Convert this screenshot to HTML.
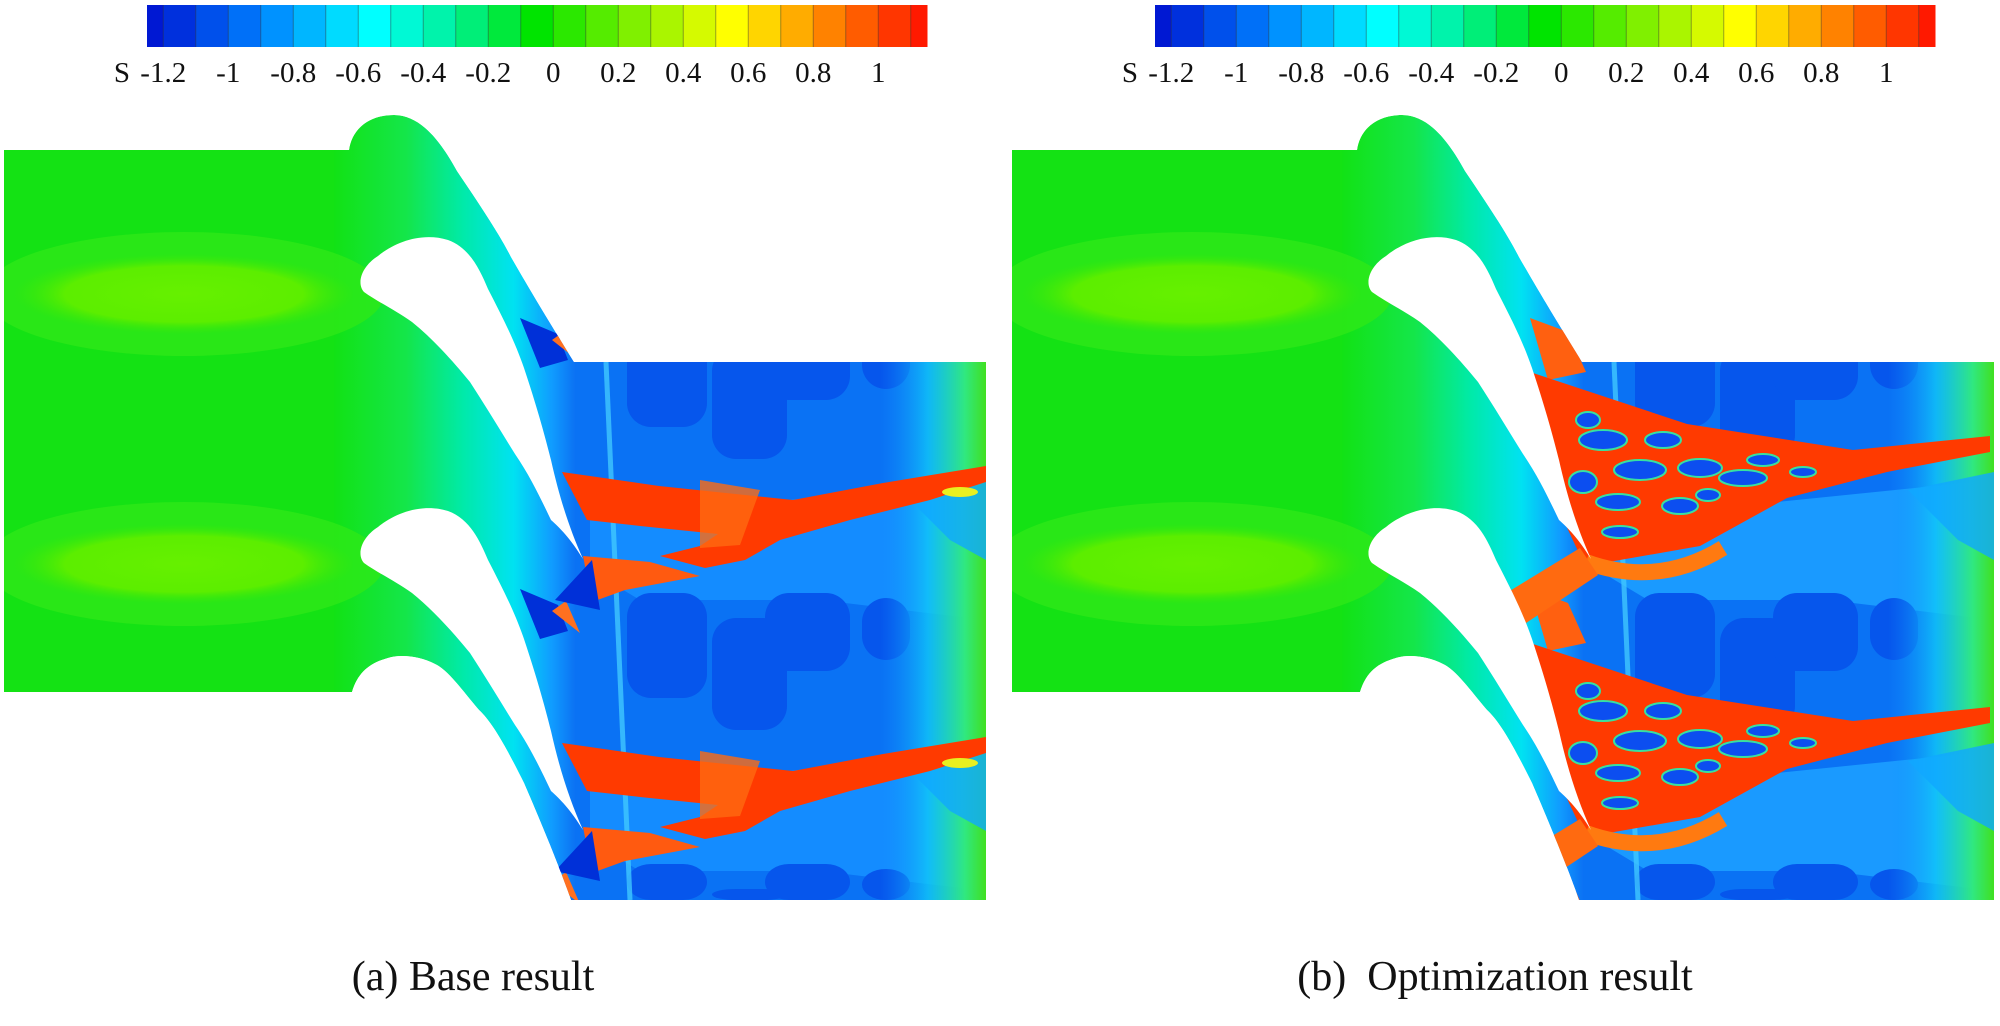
<!DOCTYPE html>
<html><head><meta charset="utf-8">
<style>
html,body{margin:0;padding:0;background:#fff;width:2000px;height:1026px;overflow:hidden;}
svg{display:block;}
text{font-family:"Liberation Serif",serif;fill:#111;}
</style></head>
<body>
<svg id="fig" xmlns="http://www.w3.org/2000/svg" width="2000" height="1026" viewBox="0 0 2000 1026">
<defs>
  <linearGradient id="passGrad" gradientUnits="userSpaceOnUse" x1="330" y1="0" x2="585" y2="0">
    <stop offset="0" stop-color="#12e212"/>
    <stop offset="0.3" stop-color="#14e64a"/>
    <stop offset="0.52" stop-color="#00eaa8"/>
    <stop offset="0.72" stop-color="#00e2f2"/>
    <stop offset="0.87" stop-color="#109cff"/>
    <stop offset="1" stop-color="#0a60ee"/>
  </linearGradient>
  <linearGradient id="edgeGrad" gradientUnits="userSpaceOnUse" x1="880" y1="0" x2="986" y2="0">
    <stop offset="0" stop-color="#1290ff" stop-opacity="0"/>
    <stop offset="0.45" stop-color="#10c8f8" stop-opacity="0.8"/>
    <stop offset="0.8" stop-color="#30e880"/>
    <stop offset="1" stop-color="#40e020"/>
  </linearGradient>
  <radialGradient id="ellGrad">
    <stop offset="0" stop-color="#66f000"/>
    <stop offset="0.7" stop-color="#5cee00"/>
    <stop offset="1" stop-color="#3ae808" stop-opacity="0"/>
  </radialGradient>
</defs>
<g id="colorbars"></g>
<g id="panels"></g>
<text x="473" y="990" font-size="42" text-anchor="middle">(a) Base result</text>
<text x="1495" y="990" font-size="42" text-anchor="middle" xml:space="preserve">(b)  Optimization result</text>
</svg>
<script>
// ---- colorbar data ----
const tickValues = [-1.2, -1, -0.8, -0.6, -0.4, -0.2, 0, 0.2, 0.4, 0.6, 0.8, 1];
const tickLabels = ["-1.2", "-1", "-0.8", "-0.6", "-0.4", "-0.2", "0", "0.2", "0.4", "0.6", "0.8", "1"];
const bandBounds = [-1.25,-1.2,-1.1,-1.0,-0.9,-0.8,-0.7,-0.6,-0.5,-0.4,-0.3,-0.2,-0.1,0,0.1,0.2,0.3,0.4,0.5,0.6,0.7,0.8,0.9,1.0,1.1,1.15];
const panelOffsets = [0, 1008];
const pitchIndex = [0, 1];
const pitchIndexWide = [-1, 0, 1];
const pitchIndexBlobs = [0, 1, 2];

const NS = "http://www.w3.org/2000/svg";
const vmin = -1.25, vmax = 1.15;
const cbLeft = 147, cbRight = 927, cbTop = 5, cbBottom = 47;
function xScale(v){ return cbLeft + (v - vmin) / (vmax - vmin) * (cbRight - cbLeft); }
const cStops = [[-1.25,[0,16,208]],[-0.9,[0,128,255]],[-0.55,[0,255,255]],[-0.3,[0,240,150]],[-0.05,[0,228,0]],[0.25,[128,240,0]],[0.55,[255,255,0]],[0.85,[255,130,0]],[1.15,[255,16,0]]];
function jet(v){
  for(let i=0;i<cStops.length-1;i++){
    const a=cStops[i], b=cStops[i+1];
    if(v<=b[0]){ const t=Math.max(0,(v-a[0])/(b[0]-a[0]));
      const c=a[1].map((x,j)=>Math.round(x+(b[1][j]-x)*t)); return `rgb(${c[0]},${c[1]},${c[2]})`; }
  }
  return "rgb(255,16,0)";
}
function mk(tag, attrs, parent){
  const e=document.createElementNS(NS,tag);
  for(const k in attrs) e.setAttribute(k, attrs[k]);
  parent.appendChild(e); return e;
}
const cbG=document.getElementById('colorbars');
panelOffsets.forEach((dx, pi)=>{
  const g=mk('g',{},cbG);
  
  
  for(let i=0;i<bandBounds.length-1;i++){
    const x0=xScale(bandBounds[i]), x1=xScale(bandBounds[i+1]);
    const r=mk('rect',{x:x0+dx,y:cbTop,width:x1-x0+0.5,height:cbBottom-cbTop,fill:jet((bandBounds[i]+bandBounds[i+1])/2)},g);
    
    
    if(i>0){ mk('line',{x1:x0+dx,x2:x0+dx,y1:cbTop,y2:cbBottom,stroke:'#333','stroke-opacity':0.45,'stroke-width':1},g); }
  }
  const s=mk('text',{x:122+dx,y:82,'font-size':29,'text-anchor':'middle'},g);
  s.textContent='S';
  
  
  tickValues.forEach((v,i)=>{
    const t=mk('text',{x:xScale(v)+dx,y:82,'font-size':29,'text-anchor':'middle'},g);
    t.textContent=tickLabels[i];
    
    
  });
});

// ---- geometry ----
const domainD = "M4,150 L349,150 C352,128 370,115 394,115 C420,115 440,140 457,171 C480,205 500,235 511,257 C530,290 548,320 574,362 L986,362 L986,900 L571,900 C560,868 540,820 524,783 C505,745 492,722 479,710 C462,690 448,670 435,664 C420,656 400,654 388,658 C370,663 358,672 352,692 L4,692 Z";
const bladeD = "M364,292 C356,283 362,266 378,256 C395,242 422,232 448,240 C470,248 480,270 488,289 C505,322 515,342 524,368 C538,410 546,440 551,460 C560,500 570,530 583,559 C570,538 560,528 551,520 C540,497 530,476 515,454 C500,430 485,405 470,382 C452,360 432,338 412,322 C395,310 378,302 364,292 Z";
const pitch = 271;

const panels=document.getElementById('panels');
panelOffsets.forEach((dx, pi)=>{
  const opt = pi===1;
  const g=mk('g',{transform:`translate(${dx},0)`},panels);
  
  
  const cp=mk('clipPath',{id:'clip'+pi},g);
  mk('path',{d:domainD},cp);
  const f=mk('g',{'clip-path':`url(#clip${pi})`},g);
  
  
  mk('path',{d:domainD,fill:'url(#passGrad)'},f);
  mk('rect',{x:4,y:150,width:330,height:545,fill:'#14e214'},f);
  [294,564].forEach(cy=>{
    mk('ellipse',{cx:184,cy:cy,rx:200,ry:62,fill:'#2ee818','opacity':0.8},f);
    mk('ellipse',{cx:184,cy:cy,rx:170,ry:40,fill:'url(#ellGrad)'},f);
  });
  const ex=mk('rect',{x:575,y:362,width:411,height:538,fill:'#0a72f4'},f);
  
  
  pitchIndexWide.concat([2]).forEach(k=>{
    const y=k*pitch;
    if(opt){
      mk('polygon',{points:`522,${318+y} 560,${332+y} 578,${372+y} 540,${380+y}`,fill:'#ff6010'},f);
    } else {
      mk('polygon',{points:`520,${318+y} 558,${334+y} 568,${360+y} 540,${368+y}`,fill:'#0030d8'},f);
      mk('polygon',{points:`552,${340+y} 566,${330+y} 580,${362+y}`,fill:'#ff7020'},f);
    }
  });
  pitchIndexWide.forEach(k=>{
    const y=k*pitch;
    mk('polygon',{points:`590,${520+y} 986,${480+y} 986,${620+y} 820,${600+y} 640,${600+y} 590,${570+y}`,fill:opt?'#1a9aff':'#148cff'},f);
  });
  pitchIndexBlobs.forEach(k=>{
    const y=k*pitch;
    [[627,-150,80,105],[712,-125,75,112],[765,-150,85,78],[862,-145,48,62]].forEach(b=>{
      mk('rect',{x:b[0],y:472+y+b[1],width:b[2],height:Math.min(b[3],900-(472+y+b[1])),rx:24,fill:'#0656ec'},f);
    });
  });
  mk('line',{x1:606,y1:362,x2:630,y2:900,stroke:'#40c8ff','stroke-width':5,opacity:0.8},f);
  mk('rect',{x:880,y:362,width:106,height:538,fill:'url(#edgeGrad)'},f);
  pitchIndexWide.forEach(k=>{
    const y=k*pitch;
    mk('polygon',{points:`900,${490+y} 986,${472+y} 986,${560+y} 950,${540+y}`,fill:'#10a8ff',opacity:0.8},f);
  });
  pitchIndex.forEach(k=>{
    const y=k*pitch;
    if(!opt){
      const b=mk('polygon',{points:`562,${472+y} 659,${486+y} 793,${500+y} 883,${483+y} 986,${466+y} 986,${482+y} 930,${500+y} 850,${520+y} 780,${540+y} 745,${560+y} 705,${568+y} 660,${556+y} 700,${546+y} 718,${534+y} 640,${526+y} 587,${520+y}`,fill:'#ff3a00'},f);
      
      
      mk('polygon',{points:`700,${480+y} 760,${490+y} 740,${545+y} 700,${548+y}`,fill:'#ff6a10',opacity:0.8},f);
      mk('polygon',{points:`583,${556+y} 650,${562+y} 700,${576+y} 625,${590+y} 592,${602+y}`,fill:'#ff5a10'},f);
      mk('polygon',{points:`555,${600+y} 592,${560+y} 600,${610+y}`,fill:'#0030d8'},f);
      mk('ellipse',{cx:960,cy:492+y,rx:18,ry:5,fill:'#e8f020'},f);
    } else {
      const n=mk('polygon',{points:`522,${372+y} 679,${424+y} 845,${450+y} 982,${436+y} 982,${452+y} 879,${472+y} 779,${498+y} 692,${546+y} 612,${560+y} 577,${566+y} 532,${470+y}`,fill:'#ff3a00'},f);
      
      
      [[595,440,24,10],[632,470,26,10],[692,468,22,9],[735,478,24,8],[610,502,22,8],[672,506,18,8],[575,482,14,11],[612,532,18,6],[755,460,16,6],[795,472,13,5],[655,440,18,8],[580,420,12,8],[700,495,12,6]].forEach(c=>{
        mk('ellipse',{cx:c[0],cy:c[1]+y,rx:c[2],ry:c[3],fill:'#0c4ef0',stroke:'#38e0a0','stroke-width':2},f);
      });
      mk('path',{d:`M578,${562+y} Q650,${588+y} 715,${548+y}`,fill:'none',stroke:'#ff7a10','stroke-width':16},f);
      mk('polygon',{points:`500,${592+y} 572,${548+y} 590,${575+y} 512,${627+y}`,fill:'#ff6a10'},f);
    }
  });
  pitchIndex.forEach(k=>{
    const bl=mk('path',{d:bladeD,transform:`translate(0,${k*pitch})`,fill:'#fff'},g);
    
    
  });
});
</script>
</body></html>
